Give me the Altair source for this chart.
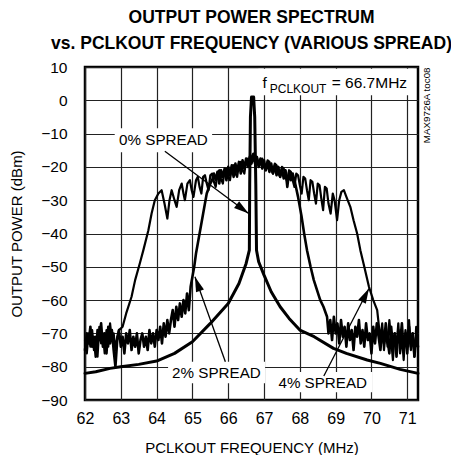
import math
import altair as alt
import pandas as pd

FONT = "Liberation Sans"
X_DOMAIN = [62.0, 71.3]
Y_DOMAIN = [-90, 10]
W, H = 333, 333

x_ticks = [62, 63, 64, 65, 66, 67, 68, 69, 70, 71]
y_ticks = [10, 0, -10, -20, -30, -40, -50, -60, -70, -80, -90]

# 0% spread: (MHz, dBm)
spread0 = [(62.0, -82), (62.3, -81.5), (62.7, -80.5), (63.0, -80), (63.5, -79.3),
           (64.0, -78.3), (64.5, -76), (65.0, -72.5), (65.5, -67), (66.0, -61),
           (66.3, -55), (66.5, -49), (66.59, -45), (66.6, -25), (66.62, -5),
           (66.65, 1), (66.71, 1), (66.74, -5), (66.77, -25), (66.79, -45),
           (66.85, -48.5), (67.0, -52.5), (67.2, -57.5), (67.45, -62), (67.7, -65.5),
           (68.0, -69), (68.4, -71), (68.94, -74.5), (69.3, -76), (69.88, -78),
           (70.25, -79), (70.8, -80.8), (71.3, -82)]

# 2% spread
spread2 = [(62.00, -75), (62.05, -70), (62.10, -73), (62.15, -68), (62.20, -74),
           (62.25, -71), (62.30, -77), (62.35, -69), (62.40, -72), (62.45, -67),
           (62.50, -74), (62.55, -70), (62.60, -76), (62.65, -68), (62.70, -73),
           (62.75, -69), (62.80, -75), (62.85, -80), (62.90, -72), (62.95, -69),
           (63.00, -74), (63.05, -71), (63.10, -76), (63.15, -70), (63.20, -73),
           (63.25, -69), (63.30, -75), (63.35, -71), (63.40, -74), (63.45, -70),
           (63.50, -76), (63.55, -72), (63.60, -70), (63.65, -74), (63.70, -71),
           (63.75, -75), (63.80, -69), (63.85, -73), (63.90, -70), (63.95, -74),
           (64.00, -69), (64.05, -72), (64.10, -68), (64.15, -73), (64.20, -67),
           (64.25, -71), (64.30, -66), (64.35, -70), (64.40, -66), (64.45, -63),
           (64.50, -68), (64.55, -62), (64.60, -66), (64.65, -61), (64.70, -65),
           (64.75, -60), (64.80, -64), (64.85, -58), (64.90, -63), (64.95, -56),
           (65.00, -53), (65.05, -50), (65.10, -46), (65.15, -43), (65.20, -40),
           (65.30, -34), (65.40, -28), (65.50, -25), (65.55, -24), (65.60, -22),
           (65.65, -24), (65.70, -21.5), (65.75, -25), (65.80, -21), (65.85, -23),
           (65.90, -20.5), (65.95, -24), (66.00, -20), (66.05, -22.5), (66.10, -19.5),
           (66.15, -23), (66.20, -19), (66.25, -21.5), (66.30, -18.5), (66.35, -22),
           (66.40, -18), (66.45, -20.5), (66.50, -17.5), (66.55, -20), (66.60, -17),
           (66.65, -19), (66.70, -16.5), (66.75, -19), (66.80, -17), (66.85, -20),
           (66.90, -17.5), (66.95, -20.5), (67.00, -18), (67.05, -21), (67.10, -18.5),
           (67.15, -21.5), (67.20, -19), (67.25, -22), (67.30, -19.5), (67.35, -22.5),
           (67.40, -20), (67.45, -23), (67.50, -20.5), (67.55, -23.5), (67.60, -21),
           (67.65, -26), (67.70, -21.5), (67.75, -24), (67.80, -22), (67.87, -25),
           (67.95, -29), (68.05, -35), (68.12, -40), (68.20, -45), (68.30, -50),
           (68.39, -54), (68.48, -57), (68.57, -60), (68.66, -62), (68.76, -65),
           (68.80, -70), (68.85, -66), (68.90, -72), (68.95, -65), (69.00, -70),
           (69.05, -67), (69.10, -73), (69.15, -66), (69.20, -71), (69.25, -68),
           (69.30, -74), (69.35, -67), (69.40, -72), (69.45, -69), (69.50, -75),
           (69.55, -68), (69.60, -71), (69.65, -66), (69.70, -73), (69.75, -69),
           (69.80, -74), (69.85, -67), (69.90, -72), (69.95, -70), (70.00, -76),
           (70.05, -68), (70.10, -73), (70.15, -67), (70.20, -71), (70.25, -75),
           (70.30, -69), (70.35, -73), (70.40, -67), (70.45, -72), (70.50, -76),
           (70.55, -68), (70.60, -74), (70.65, -70), (70.70, -77), (70.75, -69),
           (70.80, -73), (70.85, -67), (70.90, -75), (70.95, -70), (71.00, -76),
           (71.05, -68), (71.10, -74), (71.15, -70), (71.20, -77), (71.25, -71),
           (71.30, -74)]

# 4% spread
spread4 = [(62.00, -72), (62.05, -76), (62.10, -70), (62.15, -74), (62.20, -69),
           (62.25, -75), (62.30, -71), (62.35, -77), (62.40, -68), (62.45, -73),
           (62.50, -70), (62.55, -76), (62.60, -69), (62.65, -74), (62.70, -67),
           (62.75, -72), (62.80, -70), (62.85, -75), (62.90, -71), (62.95, -69),
           (63.05, -68), (63.15, -64), (63.30, -59), (63.40, -54), (63.53, -49),
           (63.63, -45), (63.77, -39), (63.86, -34), (63.95, -30), (64.05, -28),
           (64.14, -27), (64.22, -31), (64.30, -35.5), (64.36, -30), (64.42, -27),
           (64.50, -30), (64.56, -32), (64.63, -27), (64.70, -25), (64.75, -28),
           (64.79, -30), (64.86, -25), (64.93, -24), (64.98, -27), (65.03, -29),
           (65.10, -24), (65.15, -23), (65.20, -26), (65.25, -28), (65.30, -23),
           (65.35, -22.5), (65.40, -25), (65.45, -27), (65.50, -22.5), (65.55, -22),
           (65.60, -24.5), (65.65, -26), (65.70, -22), (65.75, -21), (65.80, -23.5),
           (65.85, -25), (65.90, -21), (65.95, -20.5), (66.00, -23), (66.05, -24),
           (66.10, -20), (66.15, -19.5), (66.20, -22), (66.25, -23), (66.30, -19),
           (66.35, -18.5), (66.40, -21), (66.45, -22), (66.50, -18), (66.55, -17.5),
           (66.60, -20), (66.65, -17), (66.70, -16), (66.75, -18), (66.80, -17),
           (66.85, -19.5), (66.90, -18), (66.95, -17.5), (67.00, -20), (67.05, -21),
           (67.10, -18), (67.15, -18.5), (67.20, -21), (67.25, -22), (67.30, -19),
           (67.35, -19.5), (67.40, -22), (67.45, -23), (67.50, -20), (67.55, -20.5),
           (67.60, -23), (67.65, -24.5), (67.70, -21), (67.75, -21.5), (67.80, -24),
           (67.85, -26), (67.90, -22), (67.95, -22.5), (68.00, -25.5), (68.05, -28),
           (68.10, -23), (68.15, -23.5), (68.20, -27), (68.25, -30), (68.30, -24),
           (68.35, -24.5), (68.40, -28), (68.45, -31), (68.50, -25), (68.55, -25.5),
           (68.60, -29.5), (68.65, -33), (68.70, -26), (68.75, -26.5), (68.80, -31),
           (68.86, -34), (68.92, -28), (68.97, -30), (69.04, -36), (69.10, -30),
           (69.16, -27.5), (69.23, -27), (69.30, -29), (69.41, -32), (69.50, -36),
           (69.60, -40), (69.69, -45), (69.80, -50), (69.93, -56), (70.05, -60),
           (70.16, -63), (70.20, -67), (70.25, -72), (70.30, -67), (70.35, -75),
           (70.40, -69), (70.45, -74), (70.50, -66), (70.55, -72), (70.60, -78),
           (70.65, -70), (70.70, -74), (70.75, -67), (70.80, -76), (70.85, -71),
           (70.90, -78), (70.95, -69), (71.00, -73), (71.05, -66), (71.10, -75),
           (71.15, -70), (71.20, -77), (71.25, -68), (71.30, -72)]

series_names = ["0% SPREAD", "2% SPREAD", "4% SPREAD"]

label_x = [64.19, 65.67, 68.64]
label_y = [-12.0, -82.0, -85.0]

arrow_x1 = [64.23, 65.92, 68.67]
arrow_y1 = [-15.3, -78.5, -82.8]
arrow_x2 = [66.57, 65.07, 69.93]
arrow_y2 = [-34.0, -53.0, -56.5]

box_x1 = [62.83, 64.32, 67.23, 66.84]
box_x2 = [65.55, 67.03, 70.03, 71.18]
box_y1 = [-8.4, -78.5, -81.6, 1.5]
box_y2 = [-15.6, -85.0, -87.7, 9.5]

freq_parts = ["f", "PCLKOUT", "= 66.7MHz"]
freq_x = [66.96, 67.16, 68.89]
freq_y = [3.6, 2.1, 3.6]

# ---------------------------------------------------------------- tables
rows = []
for name, pts in zip(series_names, (spread0, spread2, spread4)):
    for i, (f, p) in enumerate(pts):
        rows.append({"series": name, "i": i, "f": f, "p": p})
curves = pd.DataFrame(rows)

sx = W / (X_DOMAIN[1] - X_DOMAIN[0])
sy = H / (Y_DOMAIN[1] - Y_DOMAIN[0])
angles = []
for x1, y1, x2, y2 in zip(arrow_x1, arrow_y1, arrow_x2, arrow_y2):
    dx = (x2 - x1) * sx
    dy = -(y2 - y1) * sy
    angles.append(math.degrees(math.atan2(dx, -dy)) % 360)

arrows = pd.DataFrame({"x1": arrow_x1, "y1": arrow_y1, "x2": arrow_x2,
                       "y2": arrow_y2, "ang": angles})
labels = pd.DataFrame({"x": label_x, "y": label_y, "t": series_names})
boxes = pd.DataFrame({"x1": box_x1, "x2": box_x2, "y1": box_y1, "y2": box_y2})
freq = pd.DataFrame({"x": freq_x, "y": freq_y, "t": freq_parts})
stamp = pd.DataFrame({"x": [71.54], "y": [-1.5], "t": ["MAX9726A toc08"]})

xs = alt.Scale(domain=X_DOMAIN, nice=False, zero=False)
ys = alt.Scale(domain=Y_DOMAIN, nice=False, zero=False)

x_axis = alt.Axis(values=x_ticks, title="PCLKOUT FREQUENCY (MHz)", grid=True,
                  domain=False, ticks=False, labelPadding=10, labelFlush=False,
                  labelOverlap=False, labelFont=FONT, labelFontSize=16,
                  labelColor="black", titleFont=FONT, titleFontSize=15,
                  titleFontWeight="normal", titleColor="black",
                  titleX=W / 2, titleY=47, titleBaseline="middle",
                  gridColor="#222222", gridWidth=1.2)
y_axis = alt.Axis(values=y_ticks, title="OUTPUT POWER (dBm)", grid=True,
                  domain=False, ticks=False, labelPadding=18, labelFlush=False,
                  labelOverlap=False, labelFont=FONT, labelFontSize=15.5,
                  labelColor="black", titleFont=FONT, titleFontSize=15,
                  titleFontWeight="normal", titleColor="black",
                  titleX=-69, titleY=H / 2, titleBaseline="middle",
                  gridColor="#222222", gridWidth=1.2)


def X(field):
    return alt.X(field, scale=xs, axis=x_axis)


def Y(field):
    return alt.Y(field, scale=ys, axis=y_axis)


box_layer = alt.Chart(boxes).mark_rect(fill="white").encode(
    x=X("x1:Q"), x2="x2:Q", y=Y("y1:Q"), y2="y2:Q")

lines = alt.Chart(curves).mark_line(color="black", strokeJoin="round",
                                    strokeCap="round").encode(
    x=X("f:Q"), y=Y("p:Q"),
    detail="series:N",
    order="i:Q",
    strokeWidth=alt.StrokeWidth("series:N", legend=None,
                                scale=alt.Scale(domain=series_names,
                                                range=[3.0, 2.2, 2.2])))

arrow_lines = alt.Chart(arrows).mark_rule(color="black", strokeWidth=1.3).encode(
    x=X("x1:Q"), y=Y("y1:Q"), x2="x2:Q", y2="y2:Q")

arrow_heads = alt.Chart(arrows).mark_point(
    shape="M0,0L0.28,1L-0.28,1Z", size=900, filled=True, color="black",
    opacity=1, strokeWidth=0).encode(
    x=X("x2:Q"), y=Y("y2:Q"), angle=alt.Angle("ang:Q", scale=None))

label_layer = alt.Chart(labels).mark_text(
    font=FONT, fontSize=15.2, color="black", align="center",
    baseline="middle").encode(x=X("x:Q"), y=Y("y:Q"), text="t:N")

freq_main = alt.Chart(freq).transform_filter(
    alt.datum.t != "PCLKOUT").mark_text(
    font=FONT, fontSize=15.5, color="black", align="left",
    baseline="alphabetic").encode(x=X("x:Q"), y=Y("y:Q"), text="t:N")

freq_sub = alt.Chart(freq).transform_filter(
    alt.datum.t == "PCLKOUT").mark_text(
    font=FONT, fontSize=12, color="black", align="left",
    baseline="alphabetic").encode(x=X("x:Q"), y=Y("y:Q"), text="t:N")

stamp_layer = alt.Chart(stamp).mark_text(
    font=FONT, fontSize=9.8, color="black", align="center", baseline="middle",
    angle=270).encode(x=X("x:Q"), y=Y("y:Q"), text="t:N")

chart = alt.layer(
    box_layer, lines, arrow_lines, arrow_heads, label_layer, freq_main,
    freq_sub, stamp_layer
).properties(
    width=W, height=H,
    title=alt.Title(text=["OUTPUT POWER SPECTRUM",
                          "vs. PCLKOUT FREQUENCY (VARIOUS SPREAD)"],
                    font=FONT, fontSize=17.5, fontWeight="bold", color="black",
                    anchor="middle", frame="group", offset=8, lineHeight=26),
    autosize=alt.AutoSizeParams(type="none"),
    padding={"left": 77, "top": 59, "right": 33, "bottom": 55},
).configure(background="white",
            view=alt.ViewConfig(stroke="black", strokeWidth=2.5))

chart.save("out.html", embed_options={"renderer": "svg", "actions": False})
